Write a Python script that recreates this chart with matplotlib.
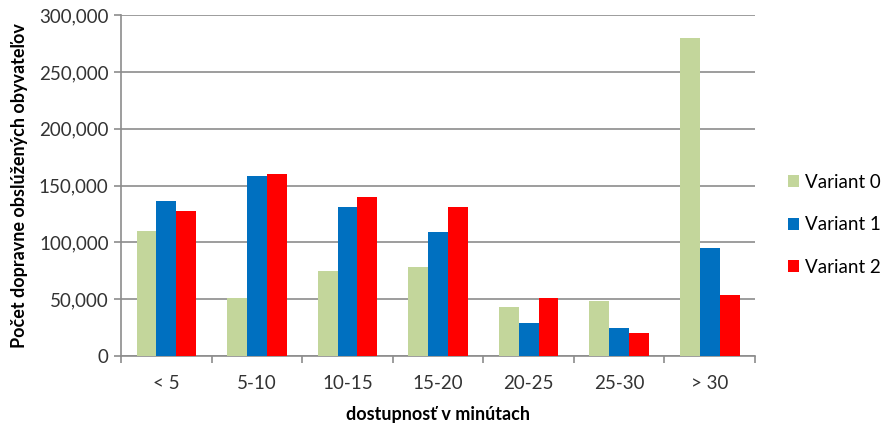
import matplotlib
matplotlib.use('Agg')
import matplotlib.pyplot as plt
import numpy as np
from matplotlib.ticker import FuncFormatter

plt.rcParams['font.family'] = ['Lato', 'DejaVu Sans']

categories = ['< 5', '5-10', '10-15', '15-20', '20-25', '25-30', '> 30']
variant0 = [110000, 51000, 74500, 78000, 43000, 48000, 280000]
variant1 = [136000, 158000, 131000, 109500, 29000, 24500, 95000]
variant2 = [128000, 160000, 139500, 131500, 51000, 20000, 53500]
series_names = ['Variant 0', 'Variant 1', 'Variant 2']
colors = ['#C3D69B', '#0070C0', '#FF0000']

fig = plt.figure(figsize=(8.84, 4.30), dpi=100)
ax = fig.add_axes([0.137, 0.172, 0.717, 0.793])

x = np.arange(len(categories))
w = 0.22
for i, (vals, name, col) in enumerate(zip([variant0, variant1, variant2], series_names, colors)):
    ax.bar(x + (i - 1) * w, vals, width=w, color=col, label=name, zorder=3)

ax.set_xlim(-0.5, len(categories) - 0.5)
ax.set_ylim(0, 300000)
ax.set_yticks(np.arange(0, 300001, 50000))
ax.yaxis.set_major_formatter(FuncFormatter(lambda v, p: f'{int(v):,}'))
ax.grid(axis='y', color='#8c8c8c', linewidth=1.2, zorder=0)

# category ticks between groups
ax.set_xticks(x)
ax.set_xticklabels(categories)
ax.set_xticks(np.arange(-0.5, len(categories)), minor=True)
ax.tick_params(axis='x', which='major', length=0, pad=14, labelsize=13.5, labelcolor='#333333')
ax.tick_params(axis='x', which='minor', length=5, width=1.2, color='#8c8c8c', direction='out')
ax.tick_params(axis='y', length=5, width=1.2, color='#8c8c8c', labelsize=13.5, labelcolor='#333333', pad=4)

for s in ['top', 'right']:
    ax.spines[s].set_visible(False)
for s in ['left', 'bottom']:
    ax.spines[s].set_color('#8c8c8c')
    ax.spines[s].set_linewidth(1.2)

ax.set_xlabel('dostupnosť v minútach', fontsize=13, fontweight='bold', labelpad=10)
ax.set_ylabel('Počet dopravne obslúžených obyvateľov', fontsize=13, fontweight='bold', labelpad=8)

ax.legend(loc='center left', bbox_to_anchor=(1.04, 0.385), frameon=False, fontsize=13.5,
          handlelength=0.6, handleheight=0.6, handletextpad=0.3, labelspacing=1.35, borderaxespad=0)

fig.savefig('out.png', dpi=100)
